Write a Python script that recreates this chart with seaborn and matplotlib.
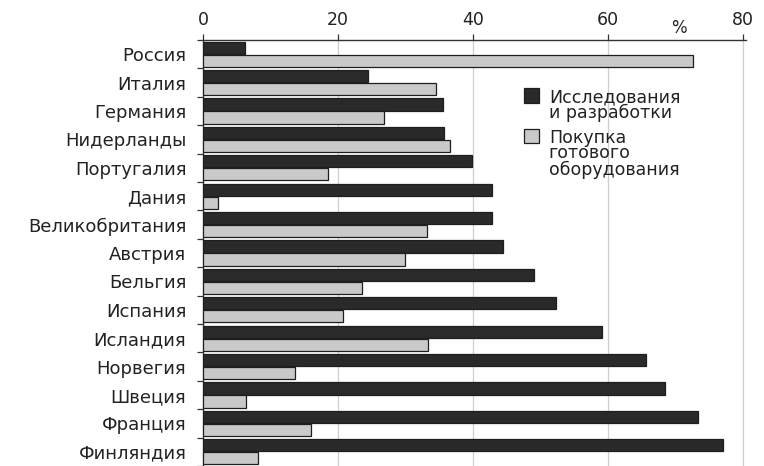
import matplotlib
matplotlib.use("Agg")
import matplotlib.pyplot as plt
import seaborn as sns
import pandas as pd
import numpy as np
from matplotlib.ticker import FixedLocator

countries = ["Россия", "Италия", "Германия", "Нидерланды", "Португалия", "Дания",
             "Великобритания", "Австрия", "Бельгия", "Испания", "Исландия",
             "Норвегия", "Швеция", "Франция", "Финляндия"]
research = [6.3, 24.5, 35.6, 35.7, 39.9, 42.8, 42.9, 44.5, 49.1, 52.4, 59.1, 65.7, 68.5, 73.4, 77.1]
equipment = [72.6, 34.6, 26.9, 36.6, 18.5, 2.2, 33.2, 29.9, 23.6, 20.7, 33.4, 13.6, 6.4, 16.0, 8.2]
series_names = ["Исследования\nи разработки", "Покупка\nготового\nоборудования"]
xticks = [0, 20, 40, 60, 80]

df = pd.DataFrame({
    "country": countries * 2,
    "value": research + equipment,
    "series": [series_names[0]] * len(countries) + [series_names[1]] * len(countries),
})

sns.set_theme(style="white")
plt.rcParams["font.family"] = ["DejaVu Sans"]

fig = plt.figure(figsize=(7.64, 4.66), dpi=100)
ax = fig.add_axes([203/764, 0.0, (746-203)/764, 1 - 40/466])

sns.barplot(data=df, y="country", x="value", hue="series", orient="h",
            palette=["#2a2a2a", "#c9c9c9"], edgecolor="#1e1e1e", linewidth=0.9,
            width=0.92, gap=0.06, ax=ax, zorder=3)

ax.set_xlim(0, 80.5)
ax.set_ylim(14.5, -0.5)
ax.xaxis.tick_top()
ax.set_xticks(xticks)
ax.set_xticklabels([str(t) for t in xticks], fontsize=12.5, color="#222222")
ax.tick_params(axis="x", direction="out", length=4, width=0.9, color="#333333", pad=4)
ax.set_xlabel("")
ax.set_ylabel("")

ax.yaxis.set_minor_locator(FixedLocator(np.arange(-0.5, 15, 1)))
ax.tick_params(axis="y", which="major", length=0, labelsize=13, labelcolor="#222222", pad=12)
ax.tick_params(axis="y", which="minor", length=4, width=0.9, color="#333333", left=True)

for x in xticks[1:]:
    ax.axvline(x, color="#cfcfcf", linewidth=0.9, zorder=1)

for s in ["right", "bottom"]:
    ax.spines[s].set_visible(False)
for s in ["top", "left"]:
    ax.spines[s].set_color("#333333")
    ax.spines[s].set_linewidth(1.0)

ax.text(70.5, -0.6, "%", fontsize=12, color="#222222", ha="center", va="bottom")

leg = ax.legend(loc="upper left", bbox_to_anchor=(0.568, 0.915), frameon=False,
                fontsize=12.5, handlelength=0.9, handleheight=0.9, handletextpad=0.55,
                labelspacing=0.35, borderpad=0.2)
for t in leg.get_texts():
    t.set_linespacing(0.85)
    t.set_color("#222222")
try:
    for col in leg._legend_handle_box.get_children():
        for item in col.get_children():
            item.align = "top"
except Exception:
    pass

fig.savefig("out.png", dpi=100, facecolor="white")
